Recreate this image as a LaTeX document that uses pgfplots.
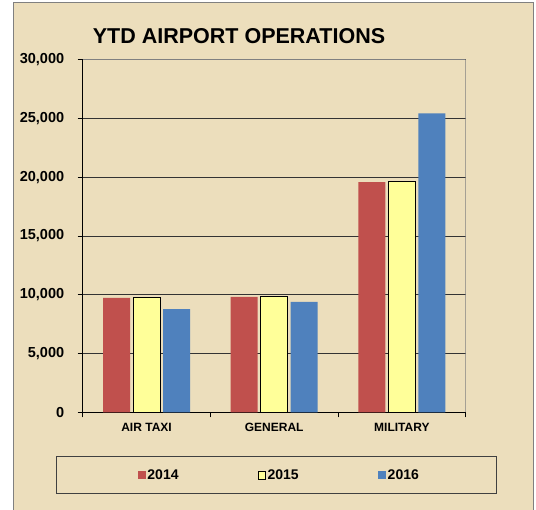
\documentclass[border=0pt]{standalone}
\usepackage{fontspec}
\setmainfont{Liberation Sans}
\usepackage{pgfplots}
\pgfplotsset{compat=1.18}
\definecolor{parch}{RGB}{236,222,188}
\definecolor{c14}{RGB}{192,80,77}
\definecolor{c15}{RGB}{255,255,153}
\definecolor{c16}{RGB}{79,129,189}
\begin{document}
\begin{tikzpicture}[x=1pt,y=1pt]
\path[use as bounding box, fill=white] (0,0) rectangle (536,510);
\fill[parch] (13,0) rectangle (533,507);
\draw[gray, line width=1pt] (13,0) -- (13,507) -- (533,507) -- (533,0);
\node[font=\bfseries\fontsize{21.5}{24}\selectfont] at (239,474) {YTD AIRPORT OPERATIONS};
\draw[black!75, line width=1pt] (56,16) rectangle (496,53);
\begin{axis}[
  at={(82.7pt,97.5pt)}, anchor=south west,
  scale only axis, width=383pt, height=353pt,
  ymin=0, ymax=30000, xmin=-0.5, xmax=2.5,
  ybar=3pt, bar width=27pt,
  xtick={0,1,2}, xticklabels={AIR TAXI,GENERAL,MILITARY},
  minor xtick={-0.5,0.5,1.5,2.5},
  ytick={0,5000,...,30000},
  ymajorgrids, grid style={draw=black!80, line width=0.9pt},
  axis x line*=bottom, axis y line*=left,
  axis line style={line width=1pt, black, -},
  tick align=outside,
  major tick length=5pt, minor tick length=5pt,
  major x tick style={draw=none},
  tick style={black, line width=0.8pt},
  /pgf/number format/assume math mode=true,
  /pgf/number format/1000 sep={,},
  scaled y ticks=false,
  y tick label style={font=\bfseries\fontsize{14.5}{16}\selectfont, xshift=-10pt},
  x tick label style={font=\bfseries\fontsize{12}{14}\selectfont, yshift=-2pt},
  legend columns=3,
  legend style={draw=none, fill=none, at={(rel axis cs:0.513,-0.178)}, anchor=center,
    font=\bfseries\fontsize{14}{16}\selectfont, nodes={inner sep=1.5pt},
    /tikz/every even column/.append style={column sep=78pt}},
]
\addplot[fill=c14, draw=none, legend image code/.code={\fill[c14] (0pt,-4pt) rectangle (8pt,4pt);}]
  coordinates {(0,9740) (1,9825) (2,19570)};
\addlegendentry{2014}
\addplot[fill=c15, draw=black, line width=1pt, legend image code/.code={\draw[fill=c15, draw=black, line width=0.8pt] (0pt,-3.6pt) rectangle (7.2pt,3.6pt);}]
  coordinates {(0,9775) (1,9885) (2,19600)};
\addlegendentry{2015}
\addplot[fill=c16, draw=none, legend image code/.code={\fill[c16] (0pt,-4pt) rectangle (8pt,4pt);}]
  coordinates {(0,8785) (1,9400) (2,25410)};
\addlegendentry{2016}
\draw[gray, line width=1pt] (rel axis cs:1,0) -- (rel axis cs:1,1) -- (rel axis cs:0,1);
\end{axis}
\end{tikzpicture}
\end{document}
